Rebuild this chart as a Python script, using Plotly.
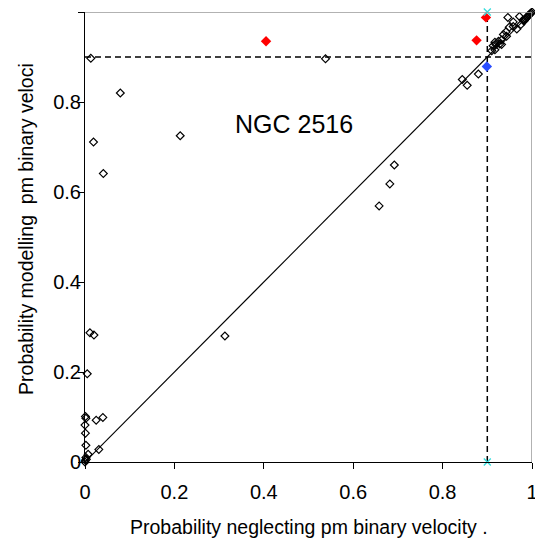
import plotly.graph_objects as go

# Open diamonds (ordinary stars)
x_open = [0.013, 0.538, 0.079, 0.019, 0.041, 0.213, 0.313, 0.692, 0.682, 0.658,
          0.011, 0.020, 0.005, 0.040, 0.025, 0.001, 0.002, 0.000, 0.001, 0.002,
          0.031, 0.007, 0.001, 0.003, 0.000, 0.002,
          0.844, 0.855, 0.880, 0.910, 0.917, 0.913, 0.917, 0.925, 0.928, 0.932,
          0.936, 0.943, 0.942, 0.949, 0.958, 0.946, 0.972, 0.958, 0.980, 0.919,
          0.932, 0.966, 0.975,
          0.982, 0.984, 0.986, 0.988, 0.990, 0.992, 0.994, 0.996, 0.998, 1.000]
y_open = [0.897, 0.896, 0.820, 0.711, 0.641, 0.725, 0.280, 0.660, 0.618, 0.569,
          0.287, 0.282, 0.196, 0.099, 0.093, 0.101, 0.097, 0.082, 0.064, 0.037,
          0.028, 0.017, 0.004, 0.006, 0.000, 0.010,
          0.850, 0.837, 0.862, 0.914, 0.916, 0.925, 0.933, 0.935, 0.929, 0.938,
          0.950, 0.946, 0.956, 0.966, 0.968, 0.988, 0.990, 0.978, 0.982, 0.928,
          0.928, 0.962, 0.972,
          0.980, 0.983, 0.985, 0.988, 0.990, 0.992, 0.994, 0.996, 0.998, 1.000]

# Highlighted stars
red_x = [0.405, 0.876, 0.897]
red_y = [0.935, 0.937, 0.988]
blue_x = [0.899]
blue_y = [0.879]
cyan_x = [0.900, 0.900]
cyan_y = [1.000, 0.000]

# Reference lines
diag = [0, 1]
cut = 0.9

tick_vals = [0, 0.2, 0.4, 0.6, 0.8, 1]
tick_text = ["0", "0.2", "0.4", "0.6", "0.8", "1"]

FONT = "Liberation Sans, Arial, sans-serif"

fig = go.Figure()

fig.add_trace(go.Scatter(x=diag, y=diag, mode="lines",
                         line=dict(color="black", width=1.1), hoverinfo="skip"))
fig.add_trace(go.Scatter(x=[0, 1], y=[cut, cut], mode="lines",
                         line=dict(color="black", width=1.5, dash="6px,4px")))
fig.add_trace(go.Scatter(x=[cut, cut], y=[0, 1], mode="lines",
                         line=dict(color="black", width=1.5, dash="6px,4px")))

fig.add_trace(go.Scatter(x=x_open, y=y_open, mode="markers", cliponaxis=False,
                         marker=dict(symbol="diamond-open", size=6,
                                     color="black", line=dict(width=1.2, color="black"))))
fig.add_trace(go.Scatter(x=red_x, y=red_y, mode="markers", cliponaxis=False,
                         marker=dict(symbol="diamond", size=8, color="red")))
fig.add_trace(go.Scatter(x=blue_x, y=blue_y, mode="markers", cliponaxis=False,
                         marker=dict(symbol="diamond", size=8, color="#2a4dff")))
fig.add_trace(go.Scatter(x=cyan_x, y=cyan_y, mode="markers", cliponaxis=False,
                         marker=dict(symbol="x-thin", size=7,
                                     line=dict(width=1.3, color="#33dddd"))))

axis_common = dict(range=[0, 1], tickvals=tick_vals, ticktext=tick_text,
                   showgrid=False, zeroline=False, showline=True,
                   linecolor="black", linewidth=1, ticks="outside",
                   ticklen=6, tickcolor="black", tickwidth=1, automargin=False,
                   tickfont=dict(family=FONT, size=20, color="black"))

fig.update_layout(
    width=535, height=533,
    margin=dict(l=77, r=11, t=4, b=79, pad=0),
    paper_bgcolor="white", plot_bgcolor="white",
    showlegend=False,
    font=dict(family=FONT, color="black"),
    xaxis=dict(**axis_common, ticklabelstandoff=6),
    yaxis=dict(**axis_common, ticklabelstandoff=-7),
    shapes=[
        dict(type="line", xref="x", yref="y", x0=0, x1=1, y0=1, y1=1,
             line=dict(color="#999999", width=1.5)),
        dict(type="line", xref="x", yref="y", x0=1, x1=1, y0=0, y1=1,
             line=dict(color="#999999", width=1.5)),
    ],
    annotations=[
        dict(text="NGC 2516", xref="paper", yref="paper", x=0.468, y=0.751,
             showarrow=False, xanchor="center", yanchor="middle",
             font=dict(family=FONT, size=25, color="black")),
        dict(text="Probability neglecting pm binary velocity .", xref="paper",
             yref="paper", x=0.501, y=-0.144, showarrow=False,
             xanchor="center", yanchor="middle",
             font=dict(family=FONT, size=19.5, color="black")),
        dict(text="Probability modelling  pm binary veloci", xref="paper",
             yref="paper", x=-0.132, y=0.518, showarrow=False, textangle=-90,
             xanchor="center", yanchor="middle",
             font=dict(family=FONT, size=19.5, color="black")),
    ],
)

fig.write_html("out.html")
